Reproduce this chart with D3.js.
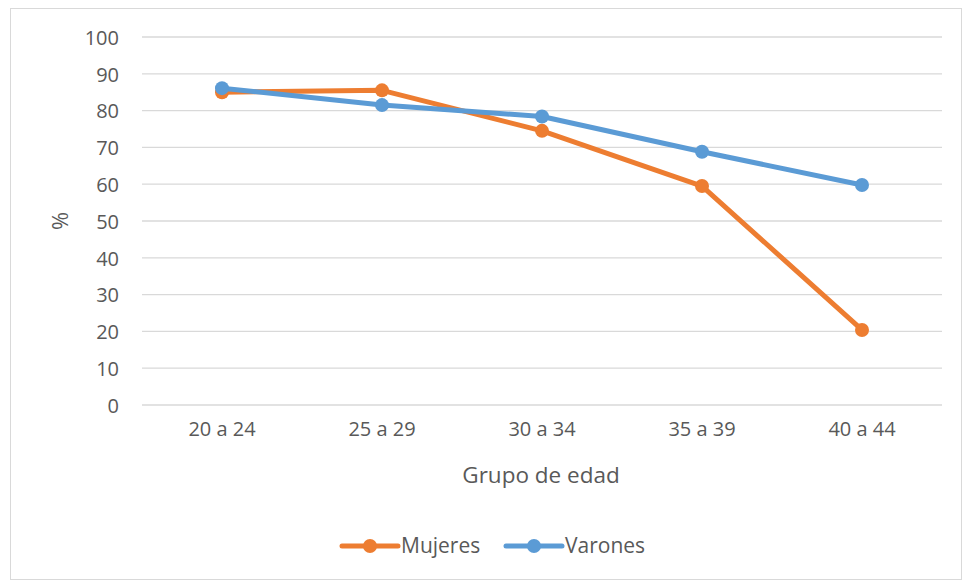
<!DOCTYPE html>
<html><head><meta charset="utf-8">
<script src="https://cdn.jsdelivr.net/npm/d3@7"></script>
<style>body{margin:0;background:#fff}svg{display:block}text{font-family:"Open Sans",sans-serif;fill:#595959}</style>
</head><body>
<svg id="c" width="963" height="581"></svg>
<script>
const categories = ["20 a 24","25 a 29","30 a 34","35 a 39","40 a 44"];
const mujeres = [85.0, 85.5, 74.5, 59.5, 20.4];
const varones = [86.1, 81.5, 78.4, 68.8, 59.8];
const yTicks = [0,10,20,30,40,50,60,70,80,90,100];
const seriesNames = ["Mujeres","Varones"];
const colors = ["#ED7D31","#5B9BD5"];

const svg = d3.select("#c");
svg.append("rect").attr("x",10.5).attr("y",8.5).attr("width",951).attr("height",571)
  .attr("fill","#fff").attr("stroke","#D9D9D9");

const x = d3.scaleBand().domain(categories).range([142,942]);
const y = d3.scaleLinear().domain([0,100]).range([405,37]);

const grid = svg.append("g");
grid.selectAll("line").data(yTicks).join("line")
  .attr("x1",142).attr("x2",942).attr("y1",d=>y(d)).attr("y2",d=>y(d))
  .attr("stroke","#D9D9D9").attr("stroke-width",1.3);

const yAxis = svg.append("g").attr("transform","translate(142,0)")
  .call(d3.axisLeft(y).tickValues(yTicks).tickSize(0).tickPadding(23));
yAxis.select(".domain").remove();
yAxis.attr("font-family",null).attr("font-size",null);
yAxis.selectAll("text").attr("font-size",20).attr("dy","0.36em");

const xAxis = svg.append("g").attr("transform","translate(0,405)")
  .call(d3.axisBottom(x).tickSize(0).tickPadding(17));
xAxis.select(".domain").remove();
xAxis.attr("font-family",null).attr("font-size",null);
xAxis.selectAll("text").attr("font-size",20);

svg.append("text").attr("x",541).attr("y",483).attr("text-anchor","middle")
  .attr("font-size",22.5).text("Grupo de edad");
svg.append("text").attr("transform","translate(68,221) rotate(-90)").attr("text-anchor","middle")
  .attr("font-size",22).text("%");

const data = [mujeres, varones];
const line = d3.line().x((d,i)=>x(categories[i])+x.bandwidth()/2).y(d=>y(d));
data.forEach((s,k)=>{
  const g = svg.append("g");
  g.append("path").datum(s).attr("d",line).attr("fill","none")
    .attr("stroke",colors[k]).attr("stroke-width",5).attr("stroke-linejoin","round");
  g.selectAll("circle").data(s).join("circle")
    .attr("cx",(d,i)=>x(categories[i])+x.bandwidth()/2).attr("cy",d=>y(d))
    .attr("r",7).attr("fill",colors[k]);
});

const leg = svg.append("g");
const legX = [342, 506];
seriesNames.forEach((n,k)=>{
  const lx = legX[k];
  leg.append("line").attr("x1",lx).attr("x2",lx+56).attr("y1",546).attr("y2",546)
    .attr("stroke",colors[k]).attr("stroke-width",5).attr("stroke-linecap","round");
  leg.append("circle").attr("cx",lx+28).attr("cy",546).attr("r",7).attr("fill",colors[k]);
  leg.append("text").attr("x",lx+59).attr("y",553).attr("font-size",21).text(n);
});
</script>
</body></html>
